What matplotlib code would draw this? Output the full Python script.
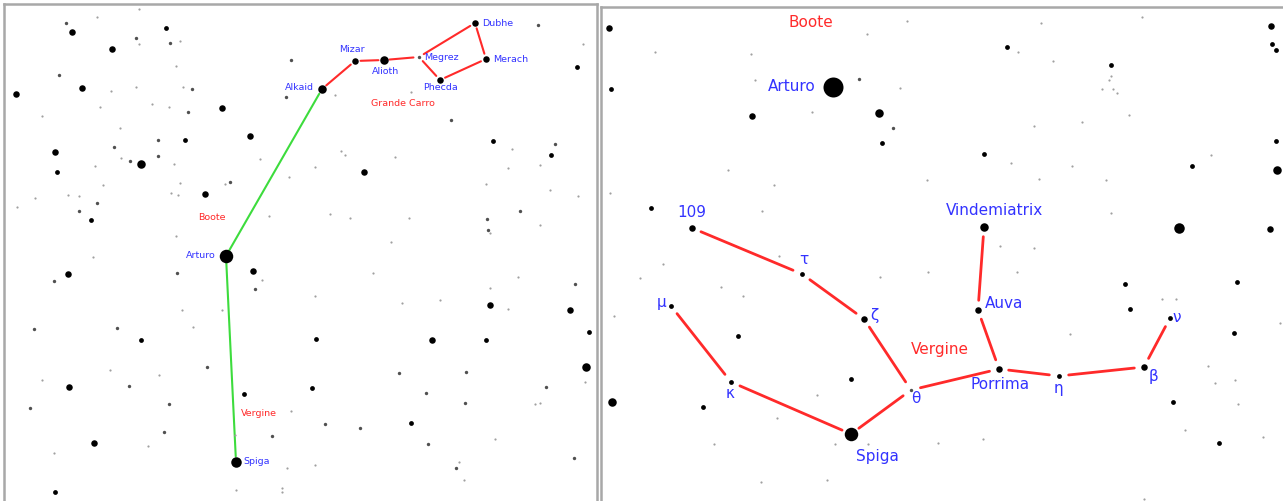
import matplotlib.pyplot as plt

# star diameters (px) and colours per brightness class
size_px = {1: 2.2, 2: 3.4, 3: 4.8, 4: 6.5, 5: 8.5, 6: 10.5, 7: 13.5, 8: 20}
shade = {1: '#a0a0a0', 2: '#505050'}

# ---- left panel: background stars (x, y in chart px, class)
left_bg_x = [139, 66, 72, 97, 166, 136, 139, 170, 180, 112, 176, 59, 82, 16, 136, 192, 183, 111,
             222, 188, 152, 169, 100, 42, 250, 185, 158, 120, 55, 114, 141, 158, 130, 121, 57, 95,
             174, 205, 230, 225, 180, 178, 171, 97, 79, 91, 35, 17, 103, 79, 68, 291, 286, 260, 289,
             269, 176,
             538, 577, 583, 451, 493, 512, 555, 551, 364, 395, 341, 345, 315, 487, 488, 490, 520,
             540, 550, 578, 330, 391, 335, 411, 486, 508, 540, 409, 350,
             226, 236, 68, 54, 93, 177, 253, 262, 255, 34, 117, 141, 207, 69, 129, 30, 169, 244, 94,
             164, 148, 54, 55, 272, 287, 182, 222, 110, 42, 159, 193, 235, 282, 291, 282, 236,
             490, 570, 575, 589, 586, 316, 432, 486, 312, 466, 399, 426, 546, 465, 325, 360, 411,
             428, 456, 574, 315, 518, 490, 508, 440, 402, 373, 315, 585, 540, 495, 459, 464, 535]
left_bg_y = [9, 23, 32, 17, 28, 38, 44, 43, 41, 49, 66, 75, 88, 94, 87, 89, 87, 91,
             108, 112, 104, 107, 107, 116, 136, 140, 140, 128, 152, 147, 164, 156, 161, 158, 172, 166,
             164, 194, 182, 184, 183, 195, 193, 203, 211, 220, 198, 207, 185, 196, 195, 60, 97, 159, 177,
             216, 236,
             25, 67, 44, 120, 141, 149, 144, 155, 172, 157, 151, 155, 167, 219, 230, 233, 211,
             225, 190, 196, 214, 242, 95, 92, 184, 168, 165, 218, 218,
             0, 0, 274, 281, 257, 273, 271, 280, 289, 329, 328, 340, 367, 387, 386, 408, 404, 394, 443,
             432, 446, 453, 492, 436, 468, 310, 310, 370, 380, 375, 327, 435, 488, 411, 492, 490,
             305, 310, 284, 332, 367, 339, 340, 340, 388, 372, 373, 393, 387, 403, 424, 428, 423,
             444, 468, 458, 465, 277, 288, 309, 300, 303, 273, 296, 382, 403, 439, 462, 480, 404]
left_bg_c = [1, 2, 4, 1, 3, 2, 1, 2, 1, 4, 1, 2, 4, 4, 1, 2, 1, 1,
             4, 2, 1, 1, 1, 1, 4, 3, 2, 1, 4, 2, 5, 2, 2, 1, 3, 1,
             1, 4, 2, 1, 1, 1, 1, 2, 2, 3, 1, 1, 1, 1, 1, 2, 2, 1, 1,
             1, 1,
             2, 3, 1, 2, 3, 1, 2, 3, 4, 1, 1, 1, 1, 2, 2, 1, 2,
             1, 1, 1, 1, 1, 1, 1, 1, 1, 1, 1, 1,
             0, 0, 4, 2, 1, 2, 4, 1, 2, 2, 2, 3, 2, 4, 2, 2, 2, 3, 4,
             2, 1, 1, 3, 2, 1, 1, 1, 1, 1, 1, 1, 1, 1, 1, 1, 1,
             4, 4, 2, 3, 5, 3, 4, 3, 3, 2, 2, 2, 2, 2, 2, 2, 3,
             2, 2, 2, 1, 1, 1, 1, 1, 1, 1, 1, 1, 1, 1, 1, 1, 1]

# ---- left panel: named stars
left_names = ['Dubhe', 'Merach', 'Megrez', 'Phecda', 'Alioth', 'Mizar', 'Alkaid', 'Arturo', 'Spiga']
left_x = [475, 486, 419, 440, 384, 355, 322, 226, 236]
left_y = [23, 59, 57, 80, 60, 61, 89, 256, 462]
left_c = [4, 4, 2, 4, 5, 4, 5, 7, 6]
left_lab_x = [482, 493, 424, 441, 386, 352, 314, 216, 243]
left_lab_y = [24, 59, 58, 88, 71, 49, 88, 256, 461]
left_lab_ha = ['left', 'left', 'left', 'center', 'center', 'center', 'right', 'right', 'left']
left_red_links = [('Alkaid', 'Mizar'), ('Mizar', 'Alioth'), ('Alioth', 'Megrez'), ('Megrez', 'Dubhe'),
                  ('Dubhe', 'Merach'), ('Merach', 'Phecda'), ('Phecda', 'Megrez')]
left_green_links = [('Alkaid', 'Arturo'), ('Arturo', 'Spiga')]
left_const = ['Grande Carro', 'Boote', 'Vergine']
left_const_x = [403, 212, 259]
left_const_y = [103, 217, 413]

# ---- right panel: background stars
right_bg_x = [609, 611, 752, 879, 882, 893, 859, 900, 867, 907, 751, 755, 812, 655, 728, 774, 762,
              610, 651, 927, 1271, 1272, 1276, 1007, 1018, 1041, 1142, 1053, 1111, 1111, 1109, 1102,
              1113, 1117, 1129, 1082, 1034, 984, 1011, 1072, 1039, 1106, 1192, 1211, 1276, 1277,
              1179, 1270, 1111, 1034, 612, 738, 703, 640, 663, 721, 743, 779, 614, 851, 817, 714,
              827, 880, 928, 938, 1125, 1130, 1176, 1237, 1234, 1280, 1208, 1173, 1219, 1185, 1263,
              983, 1017, 1070, 1144, 835, 868, 1235, 1215, 1238, 1000, 777, 761, 1162, 1284]
right_bg_y = [28, 89, 116, 113, 143, 128, 79, 88, 34, 21, 54, 80, 112, 52, 170, 185, 211,
              193, 208, 180, 26, 44, 50, 47, 52, 23, 17, 61, 65, 76, 80, 89,
              89, 93, 115, 122, 126, 154, 163, 166, 179, 180, 166, 155, 141, 170,
              228, 229, 213, 248, 402, 336, 407, 278, 264, 287, 296, 256, 316, 379, 395, 444,
              480, 277, 272, 443, 284, 309, 299, 282, 333, 323, 366, 402, 443, 430, 437,
              439, 272, 334, 499, 444, 444, 380, 383, 404, 246, 418, 482, 299, 352]
right_bg_c = [4, 3, 4, 5, 3, 2, 2, 1, 1, 1, 1, 1, 1, 1, 1, 1, 1,
              1, 3, 1, 4, 3, 3, 3, 1, 1, 1, 1, 3, 1, 1, 1,
              1, 1, 1, 1, 1, 3, 1, 1, 1, 1, 3, 1, 3, 5,
              6, 4, 1, 1, 5, 3, 3, 1, 1, 1, 1, 1, 1, 3, 1, 1,
              1, 1, 1, 1, 3, 3, 1, 3, 3, 1, 1, 3, 3, 1, 1,
              1, 1, 1, 1, 1, 1, 1, 1, 1, 1, 1, 1, 1, 1]

# ---- right panel: named stars
right_names = ['Arturo', 'Vindemiatrix', 'Auva', 'Porrima', 'eta', 'beta', 'nu', 'zeta', 'theta',
               'kappa', 'mu', 'tau', '109', 'Spiga']
right_x = [833, 984, 978, 999, 1059, 1144, 1170, 864, 911, 731, 671, 802, 692, 851]
right_y = [87, 227, 310, 369, 376, 367, 318, 319, 390, 382, 306, 274, 228, 434]
right_c = [8, 5, 4, 4, 3, 4, 3, 4, 2, 3, 3, 3, 4, 7]
right_labels = ['Arturo', 'Vindemiatrix', 'Auva', 'Porrima', 'η', 'β', 'ν', 'ζ', 'θ',
                'κ', 'μ', 'τ', '109', 'Spiga']
right_lab_x = [816, 994, 985, 1000, 1058, 1153, 1172, 870, 916, 730, 666, 804, 692, 877]
right_lab_y = [87, 211, 304, 385, 389, 377, 318, 316, 399, 394, 303, 260, 213, 457]
right_lab_ha = ['right', 'center', 'left', 'center', 'center', 'center', 'left', 'left', 'center',
                'center', 'right', 'center', 'center', 'center']
right_links = [('109', 'tau'), ('tau', 'zeta'), ('zeta', 'theta'), ('mu', 'kappa'), ('kappa', 'Spiga'),
               ('Spiga', 'theta'), ('theta', 'Porrima'), ('Porrima', 'eta'), ('eta', 'beta'),
               ('beta', 'nu'), ('Porrima', 'Auva'), ('Auva', 'Vindemiatrix')]
right_const = ['Boote', 'Vergine']
right_const_x = [811, 940]
right_const_y = [23, 350]

BLUE = '#3333ff'
RED = '#ff2a2a'
GREEN = '#3ddc3d'


def draw_stars(ax, xs, ys, cs):
    for x, y, c in zip(xs, ys, cs):
        if c == 0:
            continue
        ms = size_px[c] / 1.389
        ax.plot(x, y, 'o', ms=ms, color=shade.get(c, 'black'), mec='none', zorder=3)


def link(ax, pos, a, b, color, shrink, lw):
    ax.annotate('', xy=pos[b], xytext=pos[a],
                arrowprops=dict(arrowstyle='-', color=color, lw=lw,
                                shrinkA=shrink, shrinkB=shrink), zorder=2)


fig = plt.figure(figsize=(12.83, 5.01), dpi=100)
fig.patch.set_facecolor('white')

# left panel
axl = fig.add_axes([4 / 1283, 0, (597 - 4) / 1283, (501 - 4) / 501])
axl.set_xlim(4, 597)
axl.set_ylim(501, 4)
draw_stars(axl, left_bg_x, left_bg_y, left_bg_c)
draw_stars(axl, left_x, left_y, left_c)
lpos = {n: (x, y) for n, x, y in zip(left_names, left_x, left_y)}
for a, b in left_red_links:
    link(axl, lpos, a, b, RED, 4, 1.5)
for a, b in left_green_links:
    link(axl, lpos, a, b, GREEN, 4, 1.5)
for t, x, y, ha in zip(left_names, left_lab_x, left_lab_y, left_lab_ha):
    axl.text(x, y, t, color=BLUE, fontsize=6.8, ha=ha, va='center', zorder=4)
for t, x, y in zip(left_const, left_const_x, left_const_y):
    axl.text(x, y, t, color=RED, fontsize=6.8, ha='center', va='center', zorder=4)

# right panel
axr = fig.add_axes([601 / 1283, 0, (1290 - 601) / 1283, (501 - 7) / 501])
axr.set_xlim(601, 1290)
axr.set_ylim(501, 7)
draw_stars(axr, right_bg_x, right_bg_y, right_bg_c)
draw_stars(axr, right_x, right_y, right_c)
rpos = {n: (x, y) for n, x, y in zip(right_names, right_x, right_y)}
for a, b in right_links:
    link(axr, rpos, a, b, RED, 7, 2.0)
for t, x, y, ha in zip(right_labels, right_lab_x, right_lab_y, right_lab_ha):
    axr.text(x, y, t, color=BLUE, fontsize=11, ha=ha, va='center', zorder=4)
for t, x, y in zip(right_const, right_const_x, right_const_y):
    axr.text(x, y, t, color=RED, fontsize=11, ha='center', va='center', zorder=4)

for ax, hide in ((axl, ['bottom']), (axr, ['bottom', 'right'])):
    ax.set_xticks([])
    ax.set_yticks([])
    for s in ax.spines:
        ax.spines[s].set_color('#a8a8a8')
        ax.spines[s].set_linewidth(1.8)
    for s in hide:
        ax.spines[s].set_visible(False)

fig.savefig('out.png', dpi=100)
